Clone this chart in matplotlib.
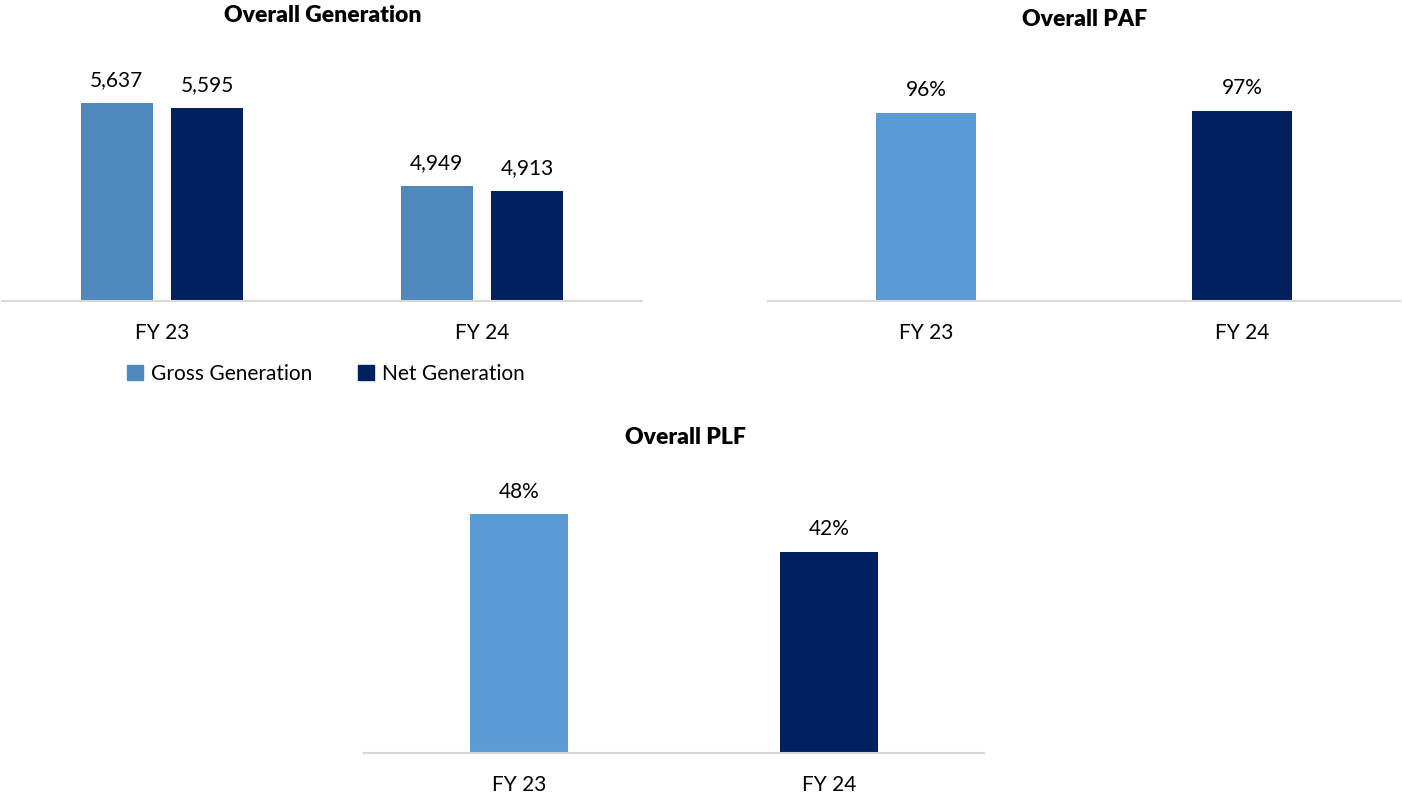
import matplotlib.pyplot as plt
from matplotlib.patches import Patch

# data
years = ['FY 23', 'FY 24']
gross_gen = [5637, 4949]
net_gen = [5595, 4913]
paf = [96, 97]
plf = [48, 42]

GROSS = '#4F89BD'
NET = '#002060'
LIGHT = '#5B9BD5'
AXIS = '#D9D9D9'

W, H = 1402, 797
plt.rcParams['font.family'] = ['Lato', 'DejaVu Sans']


def box(x0, x1, ytop, ybase):
    # pixel box -> figure fraction
    return [x0 / W, 1 - ybase / H, (x1 - x0) / W, (ybase - ytop) / H]


def style(ax):
    for s in ['top', 'right', 'left']:
        ax.spines[s].set_visible(False)
    ax.spines['bottom'].set_color(AXIS)
    ax.spines['bottom'].set_linewidth(1.5)
    ax.set_yticks([])
    ax.set_xticks(range(len(years)))
    ax.set_xticklabels(years, fontsize=15, color='#000000')
    ax.tick_params(axis='x', length=0, pad=16)
    ax.set_xlim(-0.5, len(years) - 0.5)


def label(ax, x, y, txt):
    ax.annotate(txt, (x, y), xytext=(0, 12), textcoords='offset points',
                ha='center', va='baseline', fontsize=15)


fig = plt.figure(figsize=(W / 100, H / 100), dpi=100)

# Overall Generation
ax1 = fig.add_axes(box(2, 642, 59, 301))
style(ax1)
ax1.set_ylim(4000, 6000)
xs = range(len(years))
bw = 0.225
off = 0.142
ax1.bar([x - off for x in xs], gross_gen, bw, color=GROSS)
ax1.bar([x + off for x in xs], net_gen, bw, color=NET)
for i in xs:
    label(ax1, i - off, gross_gen[i], f'{gross_gen[i]:,}')
    label(ax1, i + off, net_gen[i], f'{net_gen[i]:,}')
fig.legend(handles=[Patch(color=GROSS), Patch(color=NET)],
           labels=['Gross Generation', 'Net Generation'],
           loc='center', bbox_to_anchor=(326 / W, 1 - 374 / H), ncol=2,
           frameon=False, fontsize=15, handlelength=0.75, handleheight=0.75,
           handletextpad=0.4, columnspacing=2.2)

# Overall PAF
ax2 = fig.add_axes(box(768, 1400, 66, 301))
style(ax2)
ax2.set_ylim(0, 120)
ax2.bar(xs, paf, 0.317, color=[LIGHT, NET])
for i in xs:
    label(ax2, i, paf[i], f'{paf[i]}%')

# Overall PLF
ax3 = fig.add_axes(box(364, 984, 439, 753))
style(ax3)
ax3.set_ylim(10, 60)
ax3.bar(xs, plf, 0.316, color=[LIGHT, NET])
for i in xs:
    label(ax3, i, plf[i], f'{plf[i]}%')

# titles
for txt, x, y in [('Overall Generation', 323, 15), ('Overall PAF', 1085, 20),
                  ('Overall PLF', 685, 437)]:
    fig.text(x / W, 1 - y / H, txt, ha='center', va='center',
             fontsize=16.5, fontweight='heavy')

fig.savefig('out.png', dpi=100)
